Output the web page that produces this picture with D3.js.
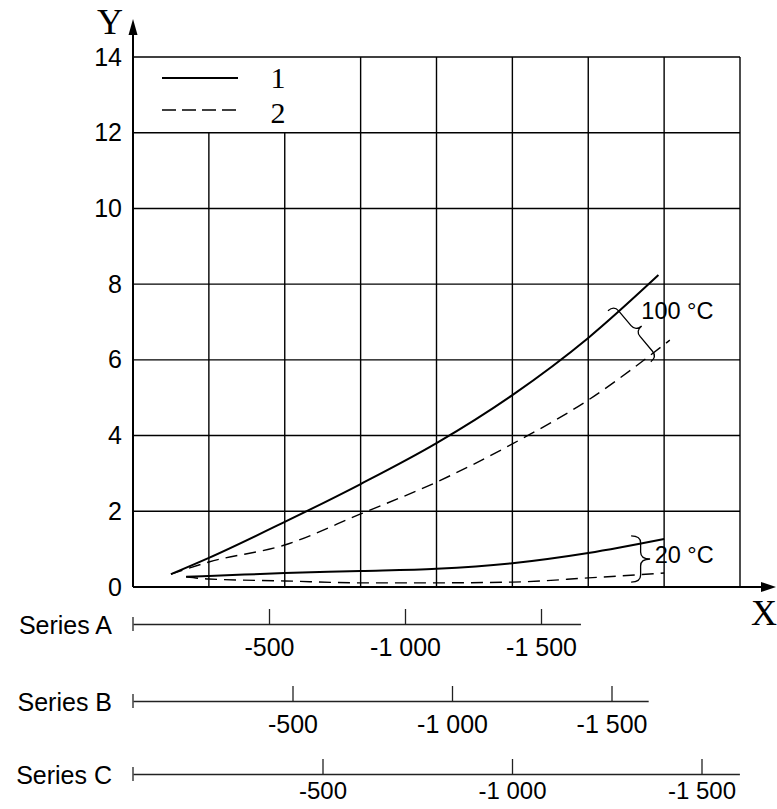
<!DOCTYPE html>
<html>
<head>
<meta charset="utf-8">
<script src="https://cdn.jsdelivr.net/npm/d3@7"></script>
<style>
body { margin: 0; background: #fff; }
text { font-family: "Liberation Sans", Arial, sans-serif; }
</style>
</head>
<body>
<div id="container"></div>
<script>
// values
const yTicks = [0, 2, 4, 6, 8, 10, 12, 14];
const gridX = [-200, -400, -600, -800, -1000, -1200, -1400, -1600];

const x100Solid = [-100, -200, -400, -600, -800, -1000, -1200, -1385];
const y100Solid = [0.34, 0.77, 1.72, 2.72, 3.8, 5.07, 6.58, 8.24];
const x100Dashed = [-100, -200, -400, -600, -800, -1000, -1200, -1415];
const y100Dashed = [0.34, 0.66, 1.11, 1.93, 2.77, 3.78, 4.94, 6.52];

const x20 = [-140, -200, -400, -600, -800, -1000, -1200, -1400];
const y20Solid = [0.27, 0.29, 0.37, 0.42, 0.48, 0.63, 0.9, 1.27];
const y20Dashed = [0.27, 0.21, 0.16, 0.11, 0.11, 0.13, 0.24, 0.37];

const legendLabels = ["1", "2"];
const tempLabels = ["100 °C", "20 °C"];

const seriesNames = ["Series A", "Series B", "Series C"];
const seriesEnds = [-1645, -1615, -1600];
const seriesTicks = [-500, -1000, -1500];

window.addEventListener("load", () => drawChart());

function drawChart() {
	const width = 777;
	const height = 809;
	const margin = { top: 57, left: 133, right: 740, bottom: 587 };

	const svg = d3
		.select("#container")
		.append("svg")
		.attr("width", width)
		.attr("height", height);

	const x = d3.scaleLinear().domain([0, -1600]).range([margin.left, margin.right]);
	const y = d3.scaleLinear().domain([0, 14]).range([margin.bottom, margin.top]);

	const fmt = d3.formatLocale({
		decimal: ",",
		thousands: " ",
		grouping: [3],
		currency: ["", ""],
		minus: "-",
	}).format(",d");

	// grid
	const grid = svg.append("g").attr("stroke", "#000").attr("stroke-width", 1.4);
	grid
		.selectAll("line.h")
		.data(yTicks.slice(1))
		.enter()
		.append("line")
		.attr("x1", x(0))
		.attr("x2", x(-1600))
		.attr("y1", (d) => y(d))
		.attr("y2", (d) => y(d));
	grid
		.selectAll("line.v")
		.data(gridX)
		.enter()
		.append("line")
		.attr("x1", (d) => x(d))
		.attr("x2", (d) => x(d))
		.attr("y1", y(0))
		.attr("y2", (d) => (d > -500 ? y(12) : y(14)));

	// axes with arrows
	svg.append("line")
		.attr("x1", x(0)).attr("x2", 764)
		.attr("y1", y(0)).attr("y2", y(0))
		.attr("stroke", "#000").attr("stroke-width", 2);
	svg.append("path")
		.attr("d", `M776,${y(0)}L761,${y(0) - 5}L761,${y(0) + 5}Z`)
		.attr("fill", "#000");
	svg.append("line")
		.attr("x1", x(0)).attr("x2", x(0))
		.attr("y1", y(0)).attr("y2", 32)
		.attr("stroke", "#000").attr("stroke-width", 2);
	svg.append("path")
		.attr("d", `M${x(0)},19L${x(0) - 4.5},35L${x(0) + 4.5},35Z`)
		.attr("fill", "#000");

	svg.append("text")
		.attr("x", 110).attr("y", 34)
		.attr("text-anchor", "middle")
		.style("font-family", "'Liberation Serif', serif")
		.style("font-size", "36px")
		.text("Y");
	svg.append("text")
		.attr("x", 764).attr("y", 625)
		.attr("text-anchor", "middle")
		.style("font-family", "'Liberation Serif', serif")
		.style("font-size", "36px")
		.text("X");

	const yAxis = d3.axisLeft(y).tickValues(yTicks).tickSize(0).tickPadding(11);
	const yg = svg.append("g").attr("transform", `translate(${x(0)},0)`).call(yAxis);
	yg.select(".domain").remove();
	yg.selectAll("text").style("font-size", "25px").attr("fill", "#000");

	// curves
	const lineGen = d3
		.line()
		.x((d) => x(d[0]))
		.y((d) => y(d[1]))
		.curve(d3.curveMonotoneX);

	const curves = [
		{ xs: x100Solid, ys: y100Solid, dash: null, w: 2 },
		{ xs: x100Dashed, ys: y100Dashed, dash: "12,7", w: 1.4 },
		{ xs: x20, ys: y20Solid, dash: null, w: 2 },
		{ xs: x20, ys: y20Dashed, dash: "12,7", w: 1.4 },
	];
	svg.append("g")
		.selectAll("path")
		.data(curves)
		.enter()
		.append("path")
		.attr("d", (c) => lineGen(c.xs.map((v, i) => [v, c.ys[i]])))
		.attr("fill", "none")
		.attr("stroke", "#000")
		.attr("stroke-width", (c) => c.w)
		.attr("stroke-dasharray", (c) => c.dash);

	// legend
	const legend = svg.append("g");
	legendLabels.forEach((label, i) => {
		const ly = 78 + i * 32;
		legend.append("line")
			.attr("x1", 162).attr("x2", 238)
			.attr("y1", ly).attr("y2", ly)
			.attr("stroke", "#000")
			.attr("stroke-width", i ? 1.3 : 2)
			.attr("stroke-dasharray", i ? "14,6" : null);
		legend.append("text")
			.attr("x", 278).attr("y", i ? 123 : 88)
			.attr("text-anchor", "middle")
			.style("font-family", "'Liberation Serif', serif")
			.style("font-size", "30px")
			.text(label);
	});

	// braces
	function brace(p1, p2, w) {
		const dx = p2[0] - p1[0];
		const dy = p2[1] - p1[1];
		const len = Math.hypot(dx, dy);
		const ux = dx / len, uy = dy / len;
		const vx = -uy, vy = ux;
		const pt = (u, v) => [p1[0] + ux * u + vx * v, p1[1] + uy * u + vy * v];
		const a = Math.min(7, len / 6);
		const h = len / 2;
		const p = d3.path();
		p.moveTo(...pt(0, 0));
		p.quadraticCurveTo(...pt(0, w / 2), ...pt(a, w / 2));
		p.lineTo(...pt(h - a, w / 2));
		p.quadraticCurveTo(...pt(h, w / 2), ...pt(h, w));
		p.quadraticCurveTo(...pt(h, w / 2), ...pt(h + a, w / 2));
		p.lineTo(...pt(len - a, w / 2));
		p.quadraticCurveTo(...pt(len, w / 2), ...pt(len, 0));
		return p.toString();
	}

	// drawn bottom -> top so the tip points right
	svg.append("path")
		.attr("d", brace([x(-1365), y(5.95)], [x(-1252), y(7.3)], 16))
		.attr("fill", "none").attr("stroke", "#000").attr("stroke-width", 1.3);
	svg.append("path")
		.attr("d", brace([x(-1313), y(0.13)], [x(-1313), y(1.35)], 19))
		.attr("fill", "none").attr("stroke", "#000").attr("stroke-width", 1.3);

	svg.append("text")
		.attr("x", x(-1340)).attr("y", y(7.07))
		.style("font-size", "23.5px")
		.text(tempLabels[0]);
	svg.append("text")
		.attr("x", x(-1375)).attr("y", y(0.64))
		.style("font-size", "23.5px")
		.text(tempLabels[1]);

	// secondary scales
	const pxPer500 = [136, 159.5, 189.5];
	const seriesY = [624, 701, 774];
	seriesNames.forEach((name, i) => {
		const sy = seriesY[i];
		const s = d3.scaleLinear()
			.domain([0, seriesEnds[i]])
			.range([x(0), x(0) + (seriesEnds[i] / -500) * pxPer500[i]]);
		const ax = d3.axisBottom(s)
			.tickValues(seriesTicks)
			.tickSize(-15)
			.tickSizeOuter(0)
			.tickPadding(i === 2 ? 8 : 14)
			.tickFormat(fmt);
		const g = svg.append("g").attr("transform", `translate(0,${sy})`).call(ax);
		g.selectAll("line, path").attr("stroke", "#222").attr("stroke-width", 1.3);
		g.selectAll("text").style("font-size", i === 2 ? "24px" : "25px").attr("fill", "#000");
		g.append("line")
			.attr("x1", x(0)).attr("x2", x(0))
			.attr("y1", -7).attr("y2", 7)
			.attr("stroke", "#222").attr("stroke-width", 1.3);
		svg.append("text")
			.attr("x", 112).attr("y", sy + 10)
			.attr("text-anchor", "end")
			.style("font-size", "25px")
			.text(name);
	});
}
</script>
</body>
</html>
